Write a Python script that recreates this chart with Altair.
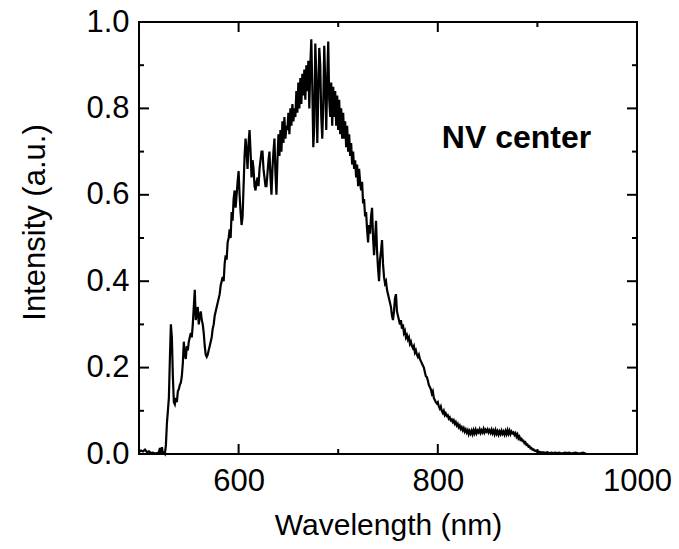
import altair as alt
import pandas as pd

# ---- spectrum (wavelength nm, intensity a.u.) ----
WL_START = [500, 502, 504, 506, 508, 510, 512, 514, 516, 518, 520, 521, 522, 523, 524, 525, 526,
            527, 528, 529, 530, 531, 532, 533, 534, 535, 536, 537, 538, 539, 540, 541, 542, 543,
            544, 545, 546, 547, 548, 549, 550, 551, 552, 553, 554, 555, 556, 557, 558, 559, 560,
            561, 562, 563, 564, 565, 566, 567, 568, 569, 570, 571, 572, 573, 574, 575, 576, 577,
            578, 579, 580, 581, 582, 583, 584, 585, 586, 587, 588, 589, 590, 591, 592, 593, 594,
            595, 596, 597, 598, 599]
INT_START = [0.004, 0.008, 0.006, 0.010, 0.004, 0.006, 0.002, 0.003, 0.001, 0.002, 0.004, 0.014,
             0.003, 0.016, 0.002, 0.003, 0.000, 0.020, 0.070, 0.100, 0.130, 0.220, 0.300, 0.270,
             0.180, 0.120, 0.115, 0.130, 0.120, 0.145, 0.150, 0.160, 0.165, 0.180, 0.210, 0.260,
             0.230, 0.220, 0.250, 0.240, 0.260, 0.270, 0.280, 0.270, 0.300, 0.340, 0.380, 0.310,
             0.330, 0.340, 0.300, 0.320, 0.330, 0.310, 0.300, 0.280, 0.250, 0.230, 0.225, 0.230,
             0.240, 0.250, 0.260, 0.270, 0.290, 0.300, 0.320, 0.330, 0.340, 0.350, 0.360, 0.370,
             0.390, 0.400, 0.410, 0.400, 0.440, 0.460, 0.450, 0.490, 0.500, 0.520, 0.500, 0.560,
             0.540, 0.590, 0.610, 0.570, 0.600, 0.630]

WL_PEAK = [600, 601, 602, 603, 604, 605, 606, 607, 608, 609, 610, 611, 612, 613, 614, 615, 616,
           617, 618, 619, 620, 621, 622, 623, 624, 625, 626, 627, 628, 629, 630, 631, 632, 633,
           634, 635, 636, 637, 638, 639, 640, 641, 642, 643, 644, 645, 646, 647, 648, 649, 650,
           651, 652, 653, 654, 655, 656, 657, 658, 659, 660, 661, 662, 663, 664, 665, 666, 667,
           668, 669, 670, 671, 672, 673, 674, 675, 676, 677, 678, 679, 680, 681, 682, 683, 684,
           685, 686, 687, 688, 689, 690, 691, 692, 693, 694, 695, 696, 697, 698, 699]
INT_PEAK = [0.655, 0.600, 0.560, 0.530, 0.550, 0.620, 0.690, 0.730, 0.700, 0.660, 0.720, 0.750,
            0.700, 0.640, 0.680, 0.660, 0.620, 0.610, 0.630, 0.640, 0.620, 0.660, 0.680, 0.700,
            0.700, 0.660, 0.640, 0.620, 0.620, 0.650, 0.680, 0.700, 0.640, 0.600, 0.660, 0.700,
            0.730, 0.650, 0.600, 0.680, 0.740, 0.690, 0.750, 0.700, 0.770, 0.720, 0.780, 0.730,
            0.760, 0.750, 0.790, 0.740, 0.800, 0.760, 0.810, 0.770, 0.800, 0.780, 0.840, 0.790,
            0.860, 0.800, 0.870, 0.810, 0.880, 0.830, 0.890, 0.820, 0.900, 0.840, 0.910, 0.800,
            0.900, 0.960, 0.850, 0.710, 0.760, 0.950, 0.880, 0.720, 0.830, 0.940, 0.900, 0.780,
            0.730, 0.810, 0.945, 0.860, 0.750, 0.870, 0.955, 0.820, 0.780, 0.860, 0.760, 0.850,
            0.780, 0.840, 0.760, 0.830]

WL_FALL = [700, 701, 702, 703, 704, 705, 706, 707, 708, 709, 710, 711, 712, 713, 714, 715, 716,
           717, 718, 719, 720, 721, 722, 723, 724, 725, 726, 727, 728, 729, 730, 731, 732, 733,
           734, 735, 736, 737, 738, 739, 740, 741, 742, 743, 744, 745, 746, 747, 748, 749, 750,
           751, 752, 753, 754, 755, 756, 757, 758, 759, 760, 761, 762, 763, 764, 765, 766, 767,
           768, 769, 770, 771, 772, 773, 774, 775, 776, 777, 778, 779, 780, 781]
INT_FALL = [0.750, 0.820, 0.740, 0.800, 0.730, 0.790, 0.730, 0.770, 0.710, 0.760, 0.700, 0.740,
            0.690, 0.720, 0.670, 0.700, 0.660, 0.680, 0.640, 0.670, 0.620, 0.660, 0.630, 0.610,
            0.630, 0.580, 0.590, 0.550, 0.560, 0.520, 0.490, 0.530, 0.510, 0.550, 0.570, 0.500,
            0.460, 0.500, 0.540, 0.470, 0.430, 0.400, 0.450, 0.470, 0.495, 0.440, 0.410, 0.395,
            0.400, 0.380, 0.370, 0.360, 0.350, 0.340, 0.320, 0.310, 0.330, 0.360, 0.370, 0.330,
            0.320, 0.310, 0.300, 0.310, 0.290, 0.300, 0.280, 0.285, 0.270, 0.275, 0.265, 0.270,
            0.255, 0.260, 0.250, 0.245, 0.250, 0.235, 0.240, 0.230, 0.225, 0.230]

WL_TAIL = [782, 783, 784, 785, 786, 787, 788, 789, 790, 791, 792, 793, 794, 795, 796, 797, 798,
           799, 800, 801, 802, 803, 804, 805, 806, 807, 808, 809, 810, 811, 812, 813, 814, 815,
           816, 817, 818, 819, 820, 821, 822, 823, 824, 825, 826, 827, 828, 829, 830, 831, 832,
           833, 834, 835, 836, 837, 838, 839, 840, 841, 842, 843, 844, 845, 846, 847, 848, 849,
           850, 851, 852, 853, 854, 855, 856, 857, 858, 859, 860, 861, 862, 863, 864, 865, 866,
           867, 868, 869, 870, 871, 872, 873, 874, 875, 876, 877, 878, 879, 880, 881, 882, 883,
           884, 885, 886, 887, 888, 889, 890, 891, 892, 893, 894, 895, 896, 897, 898, 899, 900,
           902, 904, 906, 908, 910, 912, 914, 916, 918, 920, 922, 924, 926, 928, 930, 932, 934,
           936, 938, 940, 942, 944, 946, 948, 950]
INT_TAIL = [0.220, 0.215, 0.210, 0.205, 0.200, 0.190, 0.180, 0.178, 0.170, 0.160, 0.155, 0.150,
            0.140, 0.145, 0.130, 0.125, 0.120, 0.117, 0.120, 0.110, 0.105, 0.110, 0.100, 0.095,
            0.100, 0.090, 0.094, 0.088, 0.090, 0.082, 0.085, 0.078, 0.080, 0.074, 0.078, 0.070,
            0.074, 0.066, 0.070, 0.062, 0.066, 0.058, 0.062, 0.055, 0.060, 0.052, 0.057, 0.050,
            0.055, 0.046, 0.053, 0.047, 0.054, 0.046, 0.055, 0.048, 0.056, 0.048, 0.054, 0.050,
            0.057, 0.049, 0.055, 0.050, 0.058, 0.050, 0.056, 0.052, 0.057, 0.050, 0.055, 0.049,
            0.056, 0.048, 0.054, 0.046, 0.055, 0.047, 0.053, 0.045, 0.052, 0.046, 0.054, 0.047,
            0.052, 0.045, 0.053, 0.046, 0.055, 0.047, 0.054, 0.046, 0.052, 0.048, 0.050, 0.044,
            0.048, 0.040, 0.045, 0.036, 0.040, 0.033, 0.035, 0.030, 0.031, 0.025, 0.027, 0.021,
            0.022, 0.017, 0.018, 0.013, 0.014, 0.010, 0.011, 0.008, 0.008, 0.006, 0.006, 0.005,
            0.004, 0.004, 0.003, 0.004, 0.002, 0.003, 0.002, 0.003, 0.002, 0.003, 0.001, 0.002,
            0.003, 0.002, 0.003, 0.001, 0.002, 0.003, 0.002, 0.001, 0.002, 0.003, 0.001, 0.000]

X_LABELS = [600, 800, 1000]
Y_LABELS = [0.0, 0.2, 0.4, 0.6, 0.8, 1.0]
X_MAJOR = [600, 800]
X_MINOR = [700, 900]
Y_MAJOR = [0.2, 0.4, 0.6, 0.8]
Y_MINOR = [0.1, 0.3, 0.5, 0.7, 0.9]
ANNOT_W = [804]
ANNOT_I = [0.708]
ANNOT_T = ["NV center"]

wl = WL_START + WL_PEAK + WL_FALL + WL_TAIL
inten = INT_START + INT_PEAK + INT_FALL + INT_TAIL
df = pd.DataFrame({"w": wl, "i": inten})

W, H = 498, 432
FONT = "Liberation Sans"
xscale = alt.Scale(domain=[500, 1000], nice=False, zero=False)
yscale = alt.Scale(domain=[0, 1], nice=False, zero=False)

X_AXIS = alt.Axis(
    values=X_LABELS, format="d", title="Wavelength (nm)", ticks=False, domain=False,
    grid=False, labelFontSize=31, labelPadding=12, labelFlush=False, labelColor="black",
    labelFont=FONT, titleFont=FONT, titleFontSize=30, titleFontWeight="normal",
    titleColor="black", titleBaseline="alphabetic", titleY=80)
Y_AXIS = alt.Axis(
    values=Y_LABELS, format=".1f", title="Intensity (a.u.)", ticks=False, domain=False,
    grid=False, labelFontSize=31, labelPadding=10, labelColor="black", labelFont=FONT,
    titleFont=FONT, titleFontSize=31, titleFontWeight="normal", titleColor="black",
    titleAngle=-90, titleAlign="center", titleBaseline="alphabetic", titleX=-95, titleY=200)


def X(field="w"):
    return alt.X(f"{field}:Q", scale=xscale, axis=X_AXIS, title="Wavelength (nm)")


def Y(field="i"):
    return alt.Y(f"{field}:Q", scale=yscale, axis=Y_AXIS, title="Intensity (a.u.)")


line = alt.Chart(df).mark_line(color="black", strokeWidth=2.2).encode(
    x=X(), y=Y(), order=alt.Order("w:Q"))


def xticks(vals, length):
    d = pd.DataFrame({"w": vals})
    bottom = alt.Chart(d).mark_rule(color="black", strokeWidth=2).encode(
        x=X(), y=alt.value(H), y2=alt.value(H - length))
    top = alt.Chart(d).mark_rule(color="black", strokeWidth=2).encode(
        x=X(), y=alt.value(0), y2=alt.value(length))
    return [bottom, top]


def yticks(vals, length):
    d = pd.DataFrame({"i": vals})
    left = alt.Chart(d).mark_rule(color="black", strokeWidth=2).encode(
        y=Y(), x=alt.value(0), x2=alt.value(length))
    right = alt.Chart(d).mark_rule(color="black", strokeWidth=2).encode(
        y=Y(), x=alt.value(W), x2=alt.value(W - length))
    return [left, right]


annot = alt.Chart(pd.DataFrame({"w": ANNOT_W, "i": ANNOT_I, "t": ANNOT_T})).mark_text(
    align="left", baseline="alphabetic", fontSize=32, fontWeight="bold", font=FONT, color="black"
).encode(x=X(), y=Y(), text="t:N")

layers = [line] + xticks(X_MAJOR, 10) + xticks(X_MINOR, 5) + yticks(Y_MAJOR, 10) + yticks(Y_MINOR, 5) + [annot]

chart = alt.layer(*layers).properties(
    width=W, height=H,
    autosize=alt.AutoSizeParams(type="none"),
    padding={"left": 139, "top": 22, "right": 42, "bottom": 95},
    background="white",
).configure(font=FONT).configure_view(stroke="black", strokeWidth=2)

chart.save("out.html", embed_options={"renderer": "svg", "actions": False})
